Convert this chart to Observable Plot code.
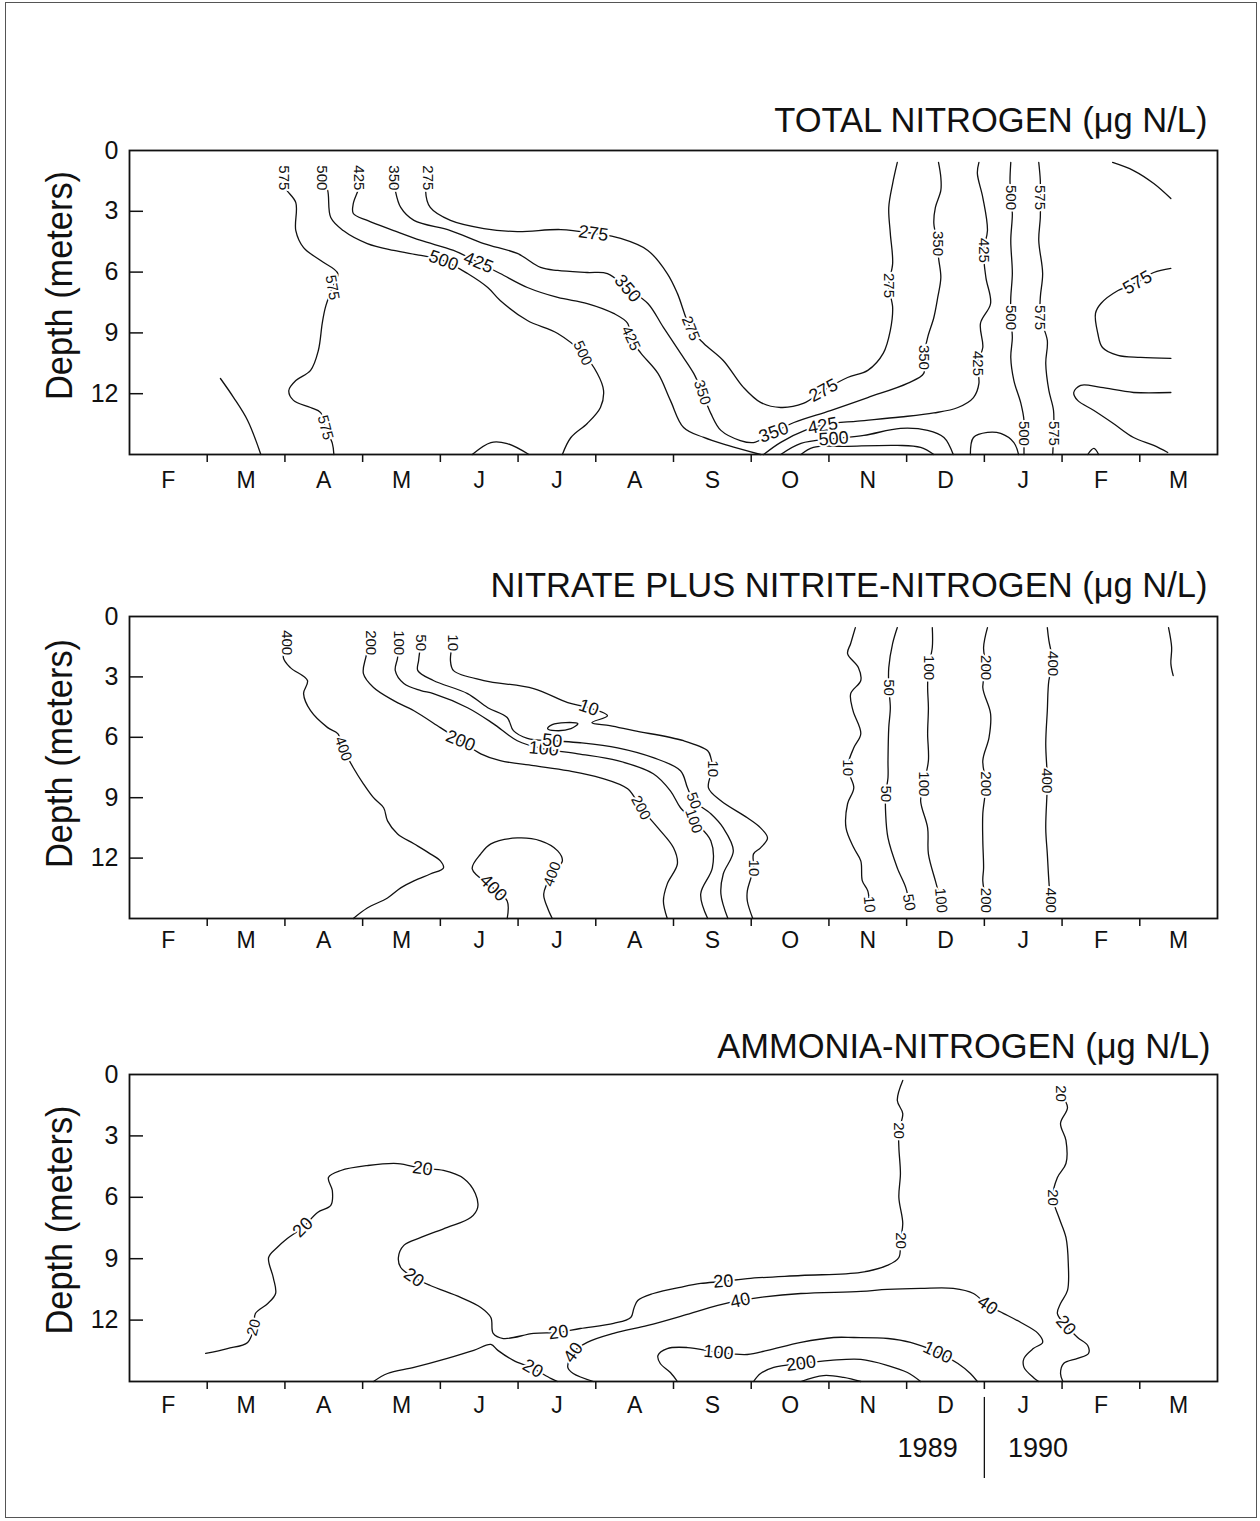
<!DOCTYPE html>
<html><head><meta charset="utf-8">
<script src="https://cdn.jsdelivr.net/npm/d3@7"></script>
<script src="https://cdn.jsdelivr.net/npm/@observablehq/plot@0.6"></script>
<style>
html,body{margin:0;padding:0;background:#fff;}
#page{position:relative;width:1260px;height:1521px;overflow:hidden;background:#fff;}
#border{position:absolute;left:5px;top:2px;width:1252px;height:1516px;border:1.5px solid #555;box-sizing:border-box;z-index:5;pointer-events:none;}
#page svg{display:block;position:absolute;left:0;z-index:1;}
</style></head><body><div id="page"><div id="border"></div></div>
<script>
// ---- shared axis data ----
const monthLabels = ["F","M","A","M","J","J","A","S","O","N","D","J","F","M"];
const depthTicks = [0, 3, 6, 9, 12];
const yearLabels = [{t: "1989", m: 10.27}, {t: "1990", m: 11.69}];

// ---- TOTAL NITROGEN contours: [month since Feb 1 1989, depth m] ----
const tnLines = [
  {v: 575, pts: [[1.98,1.35],[2.01,1.87],[2.14,2.57],[2.14,3.95],[2.24,4.79],[2.46,5.43],[2.68,6.07],[2.61,6.76],[2.52,7.75],[2.48,8.53],[2.43,9.87],[2.33,10.85],[2.14,11.35],[2.05,11.84],[2.11,12.33],[2.33,12.68],[2.46,12.93],[2.52,13.67],[2.61,14.45],[2.63,15]]},
  {v: 575, pts: [[1.17,11.25],[1.34,12.19],[1.52,13.32],[1.69,15]]},
  {v: 500, pts: [[2.48,1.35],[2.55,1.97],[2.59,3.31],[2.75,3.95],[3.06,4.59],[3.40,4.93],[3.75,5.18],[4.04,5.43],[4.35,6.07],[4.61,6.76],[4.77,7.40],[5.12,8.39],[5.51,9.03],[5.83,10.0],[6.02,11.0],[6.10,11.84],[6.06,12.68],[5.89,13.47],[5.68,14.16],[5.57,15]]},
  {v: 425, pts: [[2.95,1.35],[2.95,1.83],[2.88,2.61],[2.88,3.11],[3.06,3.45],[3.40,3.95],[3.75,4.44],[4.17,4.93],[4.49,5.53],[4.77,6.07],[5.12,6.76],[5.51,7.25],[5.89,7.55],[6.23,8.04],[6.41,8.53],[6.45,9.27],[6.58,10.0],[6.80,11.0],[6.96,12.33],[7.13,13.67],[7.39,14.16],[7.70,14.55],[8.12,15]]},
  {v: 350, pts: [[3.40,1.35],[3.42,1.97],[3.49,2.81],[3.66,3.45],[4.13,3.95],[4.56,4.59],[4.99,5.08],[5.29,5.77],[5.51,5.92],[5.89,6.02],[6.15,6.07],[6.41,6.81],[6.67,7.55],[6.87,8.73],[7.09,10.0],[7.26,11.0],[7.37,11.94],[7.48,12.97],[7.61,13.81],[7.86,14.31],[8.03,14.41],[8.29,13.91],[8.55,13.42],[9.02,12.83],[9.50,12.19],[10.01,11.49],[10.22,11.0],[10.22,10.21],[10.27,9.23],[10.35,8.24],[10.40,7.25],[10.44,6.27],[10.41,5.28],[10.40,4.59],[10.35,3.60],[10.37,2.81],[10.44,1.97],[10.44,1.33],[10.41,0.59]]},
  {v: 275, pts: [[3.84,1.35],[3.81,1.97],[3.87,2.81],[4.13,3.45],[4.56,3.85],[4.99,4.0],[5.55,3.90],[5.97,4.09],[6.32,4.34],[6.67,4.93],[6.92,6.07],[7.05,7.05],[7.22,8.78],[7.39,9.52],[7.64,10.36],[7.90,11.69],[8.12,12.43],[8.38,12.68],[8.67,12.48],[8.93,11.84],[9.24,11.2],[9.50,10.85],[9.70,10.0],[9.79,8.88],[9.82,7.75],[9.77,6.66],[9.82,5.57],[9.79,4.09],[9.77,2.81],[9.82,1.63],[9.88,0.59]]},
  {v: 425, pts: [[8.16,15],[8.38,14.40],[8.70,13.80],[8.98,13.50],[9.37,13.35],[9.92,13.15],[10.35,12.95],[10.66,12.68],[10.86,12.19],[10.93,11.49],[10.91,10.51],[10.98,9.72],[10.95,8.53],[11.08,7.55],[11.02,6.27],[10.99,4.93],[11.04,3.95],[10.98,2.32],[10.91,1.13],[10.93,0.59]]},
  {v: 500, pts: [[8.38,15],[8.64,14.45],[9.06,14.22],[9.45,14.06],[9.92,13.71],[10.27,13.81],[10.48,14.16],[10.60,15]]},
  {v: 575, pts: [[8.64,15],[8.80,14.65],[9.24,14.6],[9.88,14.55],[10.18,14.65],[10.35,15]]},
  {v: 500, pts: [[11.34,0.59],[11.33,1.48],[11.34,2.32],[11.36,3.11],[11.34,4.44],[11.36,6.07],[11.34,7.25],[11.34,8.24],[11.36,9.23],[11.34,10.21],[11.38,11.35],[11.47,12.48],[11.51,13.32],[11.51,13.96],[11.51,15]]},
  {v: 575, pts: [[11.70,0.59],[11.72,1.48],[11.72,2.32],[11.72,3.31],[11.70,4.44],[11.75,6.07],[11.72,7.25],[11.72,8.24],[11.81,9.37],[11.79,10.51],[11.83,11.84],[11.89,12.83],[11.89,13.96],[11.88,15]]},
  {v: 575, pts: [[12.65,0.59],[12.92,0.99],[13.18,1.63],[13.40,2.37]]},
  {v: 575, pts: [[13.40,5.82],[13.18,6.02],[12.97,6.51],[12.72,6.91],[12.50,7.55],[12.43,8.04],[12.46,9.03],[12.52,9.72],[12.72,10.11],[13.01,10.21],[13.40,10.26]]},
  {v: 575, pts: [[13.40,11.94],[12.92,11.94],[12.50,11.69],[12.24,11.59],[12.15,11.94],[12.20,12.33],[12.41,12.83],[12.66,13.47],[12.92,14.16],[13.18,14.55],[13.36,14.9]]},
  {v: 575, pts: [[12.33,15],[12.41,14.7],[12.47,15]]},
  {v: 575, pts: [[4.41,15],[4.65,14.41],[4.86,14.46],[5.14,15]]},
  {v: 500, pts: [[10.82,15],[10.86,14.16],[11.04,13.91],[11.21,13.96],[11.38,14.41],[11.44,15]]}
];
const tnLabels = [
  [1.98,1.35,"575",90],[2.48,1.35,"500",90],[2.95,1.35,"425",90],[3.40,1.35,"350",90],[3.84,1.35,"275",90],
  [2.61,6.76,"575",80],[2.52,13.67,"575",75],
  [4.04,5.43,"500",20],[5.83,10.0,"500",65],
  [4.49,5.53,"425",22],[6.45,9.27,"425",65],
  [6.41,6.81,"350",50],[7.37,11.94,"350",72],[8.29,13.91,"350",-20],
  [5.97,4.09,"275",8],[7.22,8.78,"275",68],[8.93,11.84,"275",-28],[9.77,6.66,"275",90],
  [10.22,10.21,"350",90],[10.40,4.59,"350",90],
  [8.92,13.58,"425",-10],[10.91,10.51,"425",90],[10.99,4.93,"425",90],
  [9.06,14.22,"500",-4],
  [11.34,2.32,"500",90],[11.34,8.24,"500",90],[11.51,13.96,"500",90],
  [11.72,2.32,"575",90],[11.72,8.24,"575",90],[11.89,13.96,"575",90],
  [12.97,6.51,"575",-30]
];

// ---- NITRATE PLUS NITRITE contours ----
const nnLines = [
  {v: 400, pts: [[2.03,1.3],[1.98,2.04],[2.07,2.54],[2.29,3.18],[2.24,3.83],[2.33,4.68],[2.55,5.52],[2.68,5.82],[2.75,6.57],[2.88,7.51],[3.01,8.31],[3.14,9.0],[3.27,9.5],[3.32,10.15],[3.45,10.8],[3.66,11.29],[3.85,11.74],[4.0,12.14],[4.04,12.49],[3.87,12.79],[3.66,13.13],[3.49,13.48],[3.32,13.98],[3.06,14.48],[2.88,15]]},
  {v: 200, pts: [[3.10,1.3],[3.04,2.04],[3.01,2.84],[3.14,3.53],[3.40,4.18],[3.66,4.68],[4.0,5.52],[4.26,6.17],[4.52,6.82],[4.77,7.16],[5.20,7.41],[5.64,7.66],[6.06,8.01],[6.41,8.56],[6.58,9.5],[6.80,10.5],[7.0,11.49],[7.05,12.29],[6.92,13.28],[6.87,14.13],[6.92,15]]},
  {v: 100, pts: [[3.46,1.3],[3.45,2.04],[3.42,2.69],[3.53,3.33],[3.75,3.68],[3.91,3.83],[4.35,4.53],[4.68,5.32],[4.99,6.17],[5.33,6.57],[5.77,6.82],[6.28,7.16],[6.74,7.81],[6.96,8.66],[7.09,9.5],[7.26,10.15],[7.48,11.14],[7.50,12.49],[7.35,13.78],[7.44,15]]},
  {v: 50, pts: [[3.75,1.3],[3.72,2.19],[3.71,2.69],[3.91,3.18],[4.35,3.83],[4.61,4.53],[4.86,5.02],[4.94,5.67],[5.12,6.05],[5.44,6.17],[5.80,6.27],[6.28,6.52],[6.74,7.01],[7.09,7.66],[7.18,8.51],[7.26,9.15],[7.48,9.8],[7.64,10.5],[7.77,11.64],[7.64,12.79],[7.61,13.78],[7.70,15]]},
  {v: 10, pts: [[4.16,1.3],[4.13,2.19],[4.17,2.69],[4.56,3.18],[5.20,3.58],[5.64,4.28],[5.91,4.53],[6.15,4.93],[5.95,5.27],[6.18,5.42],[6.49,5.67],[7.13,6.17],[7.44,6.67],[7.48,7.01],[7.50,7.56],[7.45,8.51],[7.61,9.15],[7.95,10.0],[8.12,10.5],[8.21,11.0],[8.12,11.49],[8.03,11.79],[8.03,12.49],[7.95,13.63],[7.95,14.13],[8.02,15]]},
  {v: 10, closed: true, pts: [[5.38,5.57],[5.44,5.37],[5.61,5.27],[5.77,5.32],[5.68,5.57],[5.48,5.67]]},
  {v: 400, pts: [[4.86,15],[4.86,14.13],[4.68,13.48],[4.41,12.54],[4.52,11.79],[4.65,11.29],[4.99,11.0],[5.29,11.14],[5.51,11.64],[5.57,12.14],[5.44,12.79],[5.33,13.78],[5.38,14.48],[5.44,15]]},
  {v: 10, pts: [[9.34,0.55],[9.28,1.34],[9.24,1.84],[9.38,2.54],[9.41,3.18],[9.28,3.83],[9.31,4.68],[9.41,5.82],[9.32,6.52],[9.24,7.51],[9.32,8.51],[9.24,9.3],[9.22,10.5],[9.32,11.49],[9.41,12.14],[9.43,13.13],[9.50,13.63],[9.52,14.3]]},
  {v: 50, pts: [[9.88,0.55],[9.82,1.34],[9.77,2.54],[9.77,3.53],[9.79,4.53],[9.77,5.52],[9.76,7.16],[9.76,8.01],[9.73,8.81],[9.73,9.8],[9.76,11.0],[9.88,12.49],[9.99,13.48],[10.03,14.2]]},
  {v: 100, pts: [[10.33,0.55],[10.33,1.54],[10.28,2.54],[10.27,3.53],[10.28,4.53],[10.27,5.82],[10.28,7.16],[10.22,8.31],[10.18,9.15],[10.27,10.5],[10.28,11.79],[10.37,13.13],[10.44,14.1]]},
  {v: 200, pts: [[11.04,0.55],[10.99,1.54],[11.02,2.54],[10.98,3.53],[11.08,4.83],[11.06,6.02],[10.98,7.16],[11.02,8.31],[10.98,9.8],[10.98,11.14],[10.99,12.49],[10.98,13.13],[11.02,14.1]]},
  {v: 400, pts: [[11.81,0.55],[11.83,1.19],[11.88,2.34],[11.83,3.18],[11.81,4.68],[11.79,6.32],[11.81,8.16],[11.79,10.5],[11.81,11.79],[11.83,13.13],[11.85,14.1]]},
  {v: 400, pts: [[13.37,0.55],[13.41,1.54],[13.40,2.34],[13.43,2.94]]}
];
const nnLabels = [
  [2.03,1.3,"400",90],[3.10,1.3,"200",90],[3.46,1.3,"100",90],[3.75,1.3,"50",90],[4.16,1.3,"10",90],
  [2.75,6.57,"400",70],
  [4.26,6.17,"200",22],[6.58,9.5,"200",62],
  [5.33,6.57,"100",5],[7.26,10.15,"100",70],
  [5.44,6.17,"50",5],[7.26,9.15,"50",70],
  [5.91,4.53,"10",20],[7.50,7.56,"10",90],[8.03,12.49,"10",90],
  [4.68,13.48,"400",45],[5.44,12.79,"400",-70],
  [9.24,7.51,"10",90],[9.52,14.3,"10",85],
  [9.77,3.53,"50",90],[9.73,8.81,"50",90],[10.03,14.2,"50",80],
  [10.28,2.54,"100",90],[10.22,8.31,"100",90],[10.44,14.1,"100",85],
  [11.02,2.54,"200",90],[11.02,8.31,"200",90],[11.02,14.1,"200",90],
  [11.88,2.34,"400",90],[11.81,8.16,"400",90],[11.85,14.1,"400",90]
];

// ---- AMMONIA contours ----
const amLines = [
  {v: 20, pts: [[0.98,13.63],[1.26,13.39],[1.52,13.09],[1.60,12.36],[1.62,11.68],[1.78,11.19],[1.88,10.70],[1.85,9.92],[1.79,8.94],[1.90,8.45],[2.03,8.01],[2.23,7.47],[2.42,6.74],[2.59,6.40],[2.61,5.67],[2.56,5.03],[2.72,4.69],[3.06,4.45],[3.45,4.35],[3.77,4.59],[4.04,4.69],[4.30,5.08],[4.45,5.81],[4.48,6.50],[4.39,6.99],[4.09,7.47],[3.75,7.96],[3.53,8.35],[3.46,8.94],[3.49,9.43],[3.66,9.92],[3.87,10.31],[4.26,10.89],[4.52,11.38],[4.65,11.87],[4.68,12.65],[4.81,12.90],[5.20,12.65],[5.52,12.60],[5.80,12.41],[6.23,12.16],[6.45,11.87],[6.49,11.43],[6.54,11.04],[6.74,10.70],[7.13,10.36],[7.35,10.21],[7.64,10.11],[7.95,9.97],[8.64,9.82],[9.41,9.67],[9.75,9.33],[9.90,8.94],[9.92,8.11],[9.95,7.28],[9.90,6.01],[9.92,4.84],[9.90,3.57],[9.90,2.74],[9.95,1.91],[9.88,1.27],[9.95,0.29]]},
  {v: 20, pts: [[3.14,15],[3.32,14.61],[3.66,14.31],[4.09,13.87],[4.43,13.48],[4.65,13.19],[4.74,13.48],[4.94,13.97],[5.19,14.36],[5.42,14.85],[5.51,15]]},
  {v: 40, pts: [[5.97,15],[5.71,14.61],[5.64,14.31],[5.71,13.58],[5.89,13.09],[6.23,12.65],[6.67,12.26],[7.13,11.77],[7.57,11.28],[7.86,11.04],[8.12,10.89],[8.64,10.70],[9.41,10.60],[9.75,10.50],[10.18,10.45],[10.60,10.45],[10.86,10.70],[11.04,11.28],[11.25,11.68],[11.47,12.12],[11.69,12.65],[11.75,13.09],[11.63,13.39],[11.51,13.87],[11.51,14.31],[11.63,14.80],[11.70,15]]},
  {v: 20, pts: [[11.98,0.93],[12.07,1.61],[11.98,2.39],[12.05,3.22],[12.05,4.35],[11.94,5.03],[11.88,6.01],[11.96,6.99],[12.05,7.96],[12.08,9.23],[12.07,10.55],[11.98,11.19],[11.94,11.68],[12.05,12.26],[12.20,12.85],[12.33,13.24],[12.34,13.63],[12.20,13.87],[12.02,14.12],[11.98,14.61],[12.01,15]]},
  {v: 100, pts: [[7.05,15],[6.96,14.56],[6.83,14.12],[6.80,13.73],[6.92,13.39],[7.18,13.34],[7.58,13.58],[7.95,13.68],[8.21,13.48],[8.64,13.09],[9.06,12.85],[9.32,12.85],[9.76,12.90],[10.05,13.09],[10.40,13.58],[10.66,14.12],[10.82,14.61],[10.91,15]]},
  {v: 200, pts: [[8.03,15],[8.12,14.61],[8.29,14.31],[8.64,14.12],[9.02,13.97],[9.41,13.92],[9.76,14.22],[10.01,14.56],[10.18,15]]},
  {v: 400, pts: [[8.64,15],[8.93,14.71],[9.19,14.80],[9.41,15]]}
];
const amLabels = [
  [1.60,12.36,"20",-75],[2.23,7.47,"20",-45],[3.77,4.59,"20",8],[3.66,9.92,"20",35],[5.52,12.60,"20",-8],[7.64,10.11,"20",-4],[9.92,8.11,"20",90],[9.90,2.74,"20",90],
  [5.19,14.36,"20",30],
  [5.71,13.58,"40",-55],[7.86,11.04,"40",-12],[11.04,11.28,"40",35],
  [11.98,0.93,"20",90],[11.88,6.01,"20",90],[12.05,12.26,"20",50],
  [7.58,13.58,"100",5],[10.40,13.58,"100",25],
  [8.64,14.12,"200",-8]
];

// ---- panel builder ----
const FONT = "'Liberation Sans', Arial, Helvetica, sans-serif";
const INK = "#111";

function panel(cfg) {
  const open = [], closed = [];
  cfg.lines.forEach((ln, i) => {
    const rows = ln.pts.map(([m, d]) => ({id: i, m, d, v: ln.v}));
    (ln.closed ? closed : open).push(...rows);
  });
  const labs = cfg.labels.map(([m, d, t, r]) => ({m, d, t, r}));
  const vert = labs.filter(l => Math.abs(l.r) >= 60);
  const horiz = labs.filter(l => Math.abs(l.r) < 60);
  const marks = [
    Plot.line(open, {x: "m", y: "d", z: "id", curve: "catmull-rom", stroke: INK, strokeWidth: 1.3}),
    Plot.line(closed, {x: "m", y: "d", z: "id", curve: "catmull-rom-closed", stroke: INK, strokeWidth: 1.3}),
    Plot.text(vert, {x: "m", y: "d", text: "t", rotate: "r", fontSize: 15, fill: INK, stroke: "white", strokeWidth: 4, paintOrder: "stroke"}),
    Plot.text(horiz, {x: "m", y: "d", text: "t", rotate: "r", fontSize: 18, fill: INK, stroke: "white", strokeWidth: 4, paintOrder: "stroke"}),
    Plot.frame({stroke: INK, strokeWidth: 1.8}),
    Plot.ruleY(depthTicks.filter(d => d > 0), {x1: 0, x2: 0.18, stroke: INK, strokeWidth: 1.5}),
    Plot.axisY({ticks: depthTicks, tickSize: 0, tickPadding: 11, fontSize: 25, label: null, tickFormat: d => String(d)}),
    Plot.axisX({ticks: d3.range(1, 14), tickSize: 8, tickFormat: () => "", label: null, strokeWidth: 1.5}),
    Plot.axisX({ticks: d3.range(14).map(i => i + 0.5), tickSize: 0, tickPadding: cfg.xPad, fontSize: 23, label: null, tickFormat: d => monthLabels[Math.floor(d)]}),
    Plot.text([cfg.title], {text: d => d, frameAnchor: "top-right", lineAnchor: "top", dx: cfg.titleDx, dy: cfg.titleDy, textAnchor: "end", fontSize: 34.5, fill: INK}),
    Plot.text(["Depth (meters)"], {text: d => d, frameAnchor: "left", lineAnchor: "middle", rotate: -90, dx: -69, dy: cfg.depthDy, textAnchor: "middle", fontSize: 37, fill: INK})
  ];
  if (cfg.years) {
    marks.push(
      Plot.text(yearLabels, {x: "m", text: "t", frameAnchor: "bottom", lineAnchor: "bottom", dy: 75, fontSize: 27, fill: INK}),
      Plot.ruleX([11], {y1: 15.78, y2: 19.74, stroke: INK, strokeWidth: 1.3})
    );
  }
  const svg = Plot.plot({
    width: 1260, height: cfg.height,
    marginLeft: 129, marginRight: 43, marginTop: cfg.marginTop, marginBottom: cfg.height - cfg.marginTop - cfg.frameH,
    x: {domain: [0, 14]},
    y: {domain: [0, 15], reverse: true},
    style: {fontFamily: FONT, background: "transparent", color: INK, overflow: "visible"},
    marks
  });
  svg.style.top = cfg.top + "px";
  d3.select(svg).selectAll("text")
    .filter(function() { return this.textContent === "Depth (meters)"; })
    .attr("textLength", 229).attr("lengthAdjust", "spacingAndGlyphs");
  document.getElementById("page").appendChild(svg);
}

panel({title: "TOTAL NITROGEN (\u03BCg N/L)", lines: tnLines, labels: tnLabels,
  top: 0, height: 500, marginTop: 150, frameH: 304, titleDx: -10, titleDy: -43, depthDy: -17, xPad: 17});
panel({title: "NITRATE PLUS NITRITE-NITROGEN (\u03BCg N/L)", lines: nnLines, labels: nnLabels,
  top: 500, height: 460, marginTop: 116, frameH: 302, titleDx: -10, titleDy: -44, depthDy: -14, xPad: 13});
panel({title: "AMMONIA-NITROGEN (\u03BCg N/L)", lines: amLines, labels: amLabels,
  top: 960, height: 561, marginTop: 114, frameH: 307, titleDx: -7, titleDy: -41, depthDy: -8, xPad: 15, years: true});
</script>
</body></html>
